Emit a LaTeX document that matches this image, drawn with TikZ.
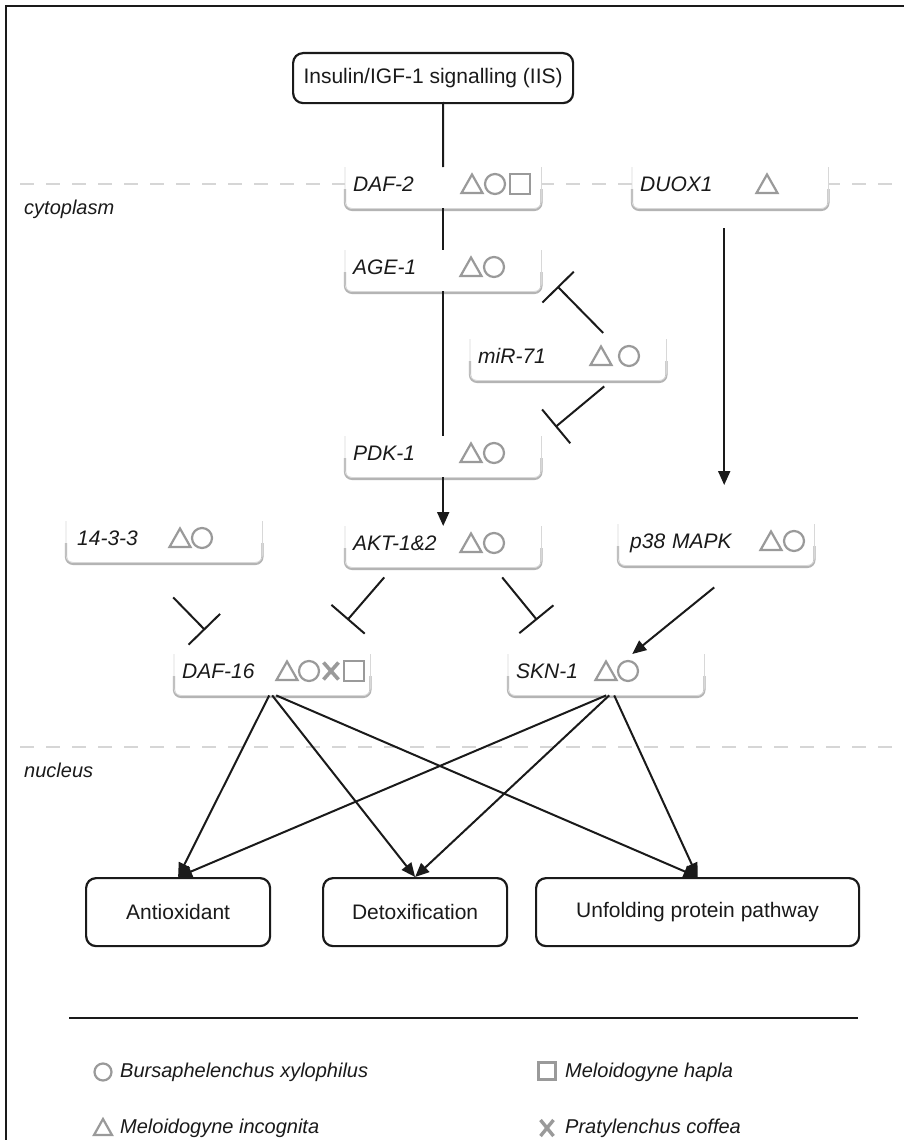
\documentclass[tikz,border=0pt]{standalone}
\usepackage{fontspec}
\setmainfont{Liberation Sans}
\usetikzlibrary{arrows.meta,calc}
\definecolor{symgray}{HTML}{9A9A9A}
\definecolor{edgegray}{HTML}{D8D8D8}
\definecolor{shadowgray}{HTML}{B4B4B4}
\definecolor{dashgray}{HTML}{D6D6D6}
\definecolor{ink}{HTML}{1A1A1A}
\newcommand\gbox[4]{%
  \node[genebox] (#1) at (#2,#3) {#4};
  \draw[shadowgray, line width=2.2pt, rounded corners=7pt] ([yshift=-1.5pt]#1.west) -- ([yshift=-1.5pt]#1.south west) -- ([yshift=-1.5pt]#1.south east) -- ([yshift=-1.5pt]#1.east);
  \draw[edgegray, line width=0.8pt, rounded corners=7pt] (#1.north west) -- (#1.south west) -- (#1.south east) -- (#1.north east);
}
\begin{document}
\begin{tikzpicture}[x=1pt,y=-1pt,
  genebox/.style={fill=white, anchor=north west, minimum width=196pt, minimum height=41pt, inner sep=0pt, text width=180pt, align=left, text height=15pt, text depth=7pt, font=\fontsize{21}{25}\selectfont\itshape, text=ink},
  endbox/.style={draw=ink, line width=2.2pt, rounded corners=10pt, fill=white, font=\fontsize{21}{25}\selectfont, text=ink, inner sep=0pt, anchor=north west},
  conn/.style={draw=ink, line width=2pt},
  act/.style={conn, -{Triangle[length=14pt,width=12pt]}},
  inh/.style={conn, -{Bar[width=44pt]}},
  sym/.style={draw=symgray, line width=2.2pt},
  dashline/.style={draw=dashgray, line width=2.5pt, dash pattern=on 14pt off 12pt},
  side/.style={font=\fontsize{20}{24}\selectfont\itshape, text=ink, anchor=west, inner sep=0pt},
  tri/.pic={\draw[sym, line join=miter] (-10.5,9) -- (10.5,9) -- (0,-9.5) -- cycle;},
  circ/.pic={\draw[sym] (0,0) circle[radius=10];},
  sq/.pic={\draw[sym] (-10,-10) rectangle (10,10);},
  crs/.pic={\draw[sym, line width=3.6pt] (-7.5,-8.5) -- (7.5,8.5) (-7.5,8.5) -- (7.5,-8.5);},
  ltri/.pic={\draw[sym, line join=miter] (-9,8) -- (9,8) -- (0,-8) -- cycle;},
  lcirc/.pic={\draw[sym] (0,0) circle[radius=8.5];},
  lsq/.pic={\draw[sym] (-8.5,-8.5) rectangle (8.5,8.5);},
  lcrs/.pic={\draw[sym, line width=3.4pt] (-6.5,-8) -- (6.5,8) (-6.5,8) -- (6.5,-8);},
]
\useasboundingbox (0,0) rectangle (904,1140);
\fill[white] (0,0) rectangle (904,1140);
% frame
\draw[ink, line width=2.6pt] (6,1140) -- (6,6) -- (904,6);
% compartment lines
\draw[dashline] (20,184) -- (902,184);
\draw[dashline] (20,747) -- (902,747);
\node[side] (cyto) at (24,209) {cytoplasm};
\node[side] (nucl) at (24,770) {nucleus};
% top box
\node[endbox, minimum width=280pt, minimum height=50pt] (iis) at (292,52) {Insulin/IGF-1 signalling (IIS)};
\coordinate (iisout) at (443,102);
% gene boxes
\gbox{daf2}{345}{167}{DAF-2}
\gbox{duox}{632}{167}{DUOX1}
\gbox{age1}{345}{250}{AGE-1}
\gbox{mir}{470}{339}{miR-71}
\gbox{pdk}{345}{436}{PDK-1}
\gbox{ft}{66}{521}{\hspace*{3pt}14-3-3}
\gbox{akt}{345}{526}{AKT-1\&2}
\gbox{p38}{618}{524}{\hspace*{4pt}p38 MAPK}
\gbox{daf16}{174}{654}{DAF-16}
\gbox{skn}{508}{654}{SKN-1}
% symbols
\pic at (472,184) {tri}; \pic at (495,184) {circ}; \pic at (520,184) {sq};
\pic at (767,184) {tri};
\pic at (471,267) {tri}; \pic at (494,267) {circ};
\pic at (601,356) {tri}; \pic at (629,356) {circ};
\pic at (471,453) {tri}; \pic at (494,453) {circ};
\pic at (180,538) {tri}; \pic at (202,538) {circ};
\pic at (471,543) {tri}; \pic at (494,543) {circ};
\pic at (771,541) {tri}; \pic at (794,541) {circ};
\pic at (287,671) {tri}; \pic at (309,671) {circ}; \pic at (331,671) {crs}; \pic at (354,671) {sq};
\pic at (606,671) {tri}; \pic at (628,671) {circ};
% output boxes
\node[endbox, minimum width=184pt, minimum height=68pt] (anti) at (85,877) {Antioxidant};
\node[endbox, minimum width=184pt, minimum height=68pt] (detox) at (322,877) {Detoxification};
\node[endbox, minimum width=323pt, minimum height=68pt] (unf) at (535,877) {Unfolding protein pathway};
% connectors
\draw[conn] (iisout) -- (daf2.north);
\draw[conn] (daf2.south) -- (age1.north);
\draw[conn] (age1.south) -- (pdk.north);
\draw[inh] ([xshift=35pt,yshift=6pt]mir.north) -- ([xshift=16pt,yshift=5pt]age1.south east);
\draw[inh] ([xshift=36pt,yshift=-6pt]mir.south) -- ([xshift=14pt,yshift=9pt]pdk.north east);
\draw[act] (pdk.south) -- (akt.north);
\draw[act] ([xshift=-6pt,yshift=-20pt]duox.south) -- ([xshift=8pt,yshift=39pt]p38.north);
\draw[inh] ([xshift=9pt,yshift=-35pt]ft.south) -- ([xshift=31pt,yshift=24pt]daf16.north west);
\draw[inh] ([xshift=-59pt,yshift=-10pt]akt.south) -- ([xshift=-23pt,yshift=34pt]daf16.north east);
\draw[inh] ([xshift=59pt,yshift=-10pt]akt.south) -- ([xshift=29pt,yshift=34pt]skn.north west);
\draw[act] ([xshift=-2pt,yshift=-22pt]p38.south) -- ([xshift=26pt]skn.north);
\draw[act] ([xshift=-3pt]daf16.south) -- (anti.north);
\draw[act] (daf16.south) -- (detox.north);
\draw[act] ([xshift=4pt]daf16.south) -- (unf.north);
\draw[act] (skn.south) -- (anti.north);
\draw[act] ([xshift=3pt]skn.south) -- (detox.north);
\draw[act] ([xshift=8pt]skn.south) -- (unf.north);
% legend
\draw[ink, line width=2.6pt] (69,1018) -- (858,1018);
\pic at (103,1072) {lcirc};
\node[side] (l1) at (120,1072) {Bursaphelenchus xylophilus};
\pic at (547,1071) {lsq};
\node[side] (l2) at (565,1072) {Meloidogyne hapla};
\pic at (103,1127) {ltri};
\node[side] (l3) at (120,1128) {Meloidogyne incognita};
\pic at (547,1128) {lcrs};
\node[side] (l4) at (565,1128) {Pratylenchus coffea};
\end{tikzpicture}
\end{document}
